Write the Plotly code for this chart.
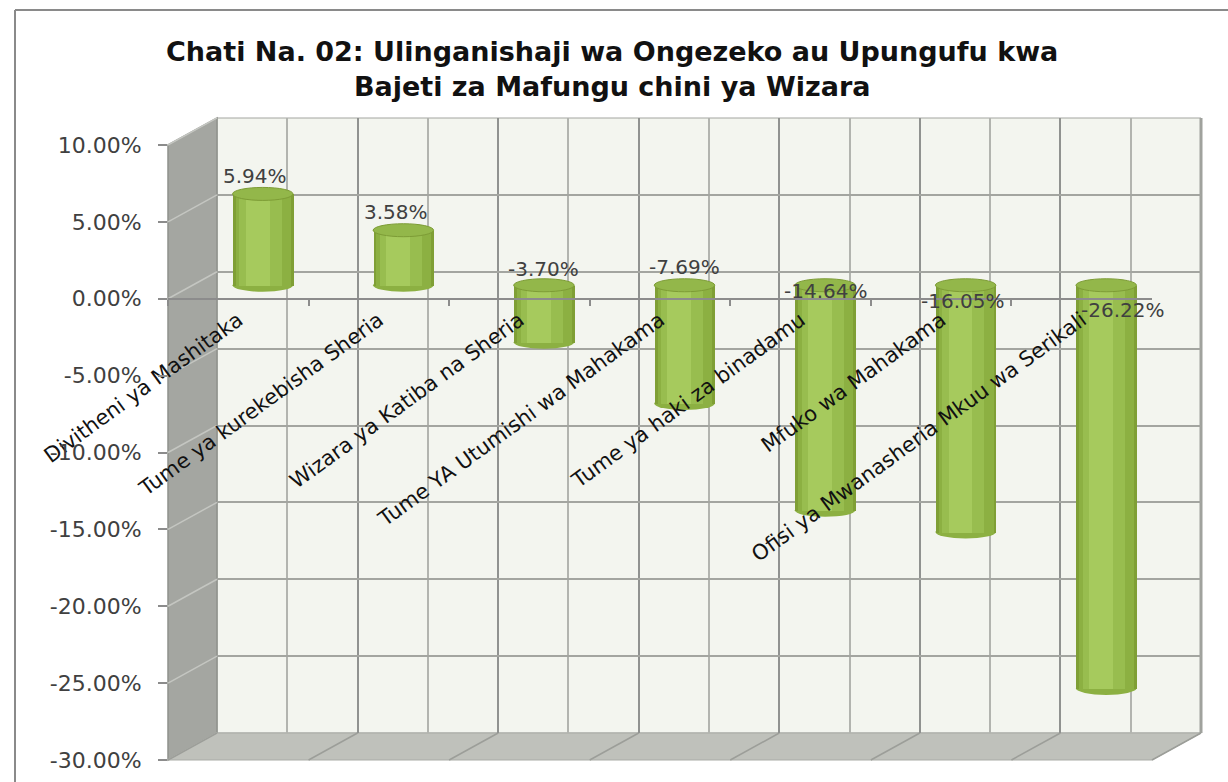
import plotly.graph_objects as go

# ---------------- data ----------------
categories = [
    "Divitheni ya Mashitaka",
    "Tume ya kurekebisha Sheria",
    "Wizara ya Katiba na Sheria",
    "Tume YA Utumishi wa Mahakama",
    "Tume ya haki za binadamu",
    "Mfuko wa Mahakama",
    "Ofisi ya Mwanasheria Mkuu wa Serikali",
]
values = [5.94, 3.58, -3.70, -7.69, -14.64, -16.05, -26.22]
y_ticks = [10, 5, 0, -5, -10, -15, -20, -25, -30]
title_lines = [
    "Chati Na. 02: Ulinganishaji wa Ongezeko au Upungufu kwa",
    "Bajeti za Mafungu chini ya Wizara",
]

# ---------------- style (pixel nudges for value labels) ----------------
label_dx = [-8, -7, 0, 0, 0, -3, 16]
label_dy = [18, 18, 16, 18, -6, -16, -25]

W, H = 1228, 782
FONT = "DejaVu Sans"

# geometry of the pseudo-3D box (pixels)
FX0, FX1, FYT, FYB = 168, 1152, 145, 760   # front plane
DX, DY = 49, -27                           # depth offset to back wall
BX0, BX1, BYT, BYB = FX0 + DX, FX1 + DX, FYT + DY, FYB + DY
MX0, MX1, MYT, MYB = FX0 + DX / 2, FX1 + DX / 2, FYT + DY / 2, FYB + DY / 2
YMIN, YMAX = -30, 10
n = len(categories)


def dx_(p):
    return p / W


def dy_(p):
    return 1 - p / H


def dom_x(a, b):
    return [dx_(a), dx_(b)]


def dom_y(top, bot):
    return [dy_(bot), dy_(top)]


fig = go.Figure()

# back-wall subplot (grid only)
fig.add_trace(go.Scatter(x=[0], y=[0], mode="markers", marker=dict(opacity=0),
                         hoverinfo="skip", showlegend=False, xaxis="x", yaxis="y"))

# bars (mid depth), layered to mimic cylinder shading
xs = list(range(n))
layers = [
    (0.43, 0.0, "#7f9f35"),
    (0.39, 0.0, "#8cb042"),
    (0.30, -0.02, "#98bd4f"),
    (0.17, -0.04, "#a6ca5d"),
]
for w, shift, col in layers:
    fig.add_trace(go.Bar(
        x=xs, y=values, width=w, offset=-w / 2 + shift,
        marker=dict(color=col, line=dict(width=0)),
        hoverinfo="skip", showlegend=False, xaxis="x2", yaxis="y2",
    ))

# front axis carrier
fig.add_trace(go.Scatter(x=categories, y=values, mode="markers", marker=dict(opacity=0),
                         hoverinfo="skip", showlegend=False, xaxis="x3", yaxis="y3"))

shapes = []
# outer chart border (left and top)
shapes.append(dict(type="line", xref="paper", yref="paper", x0=dx_(15), x1=dx_(15),
                   y0=dy_(10), y1=dy_(782), line=dict(color="#8a8a8a", width=2), layer="below"))
shapes.append(dict(type="line", xref="paper", yref="paper", x0=dx_(15), x1=dx_(1228),
                   y0=dy_(10), y1=dy_(10), line=dict(color="#8a8a8a", width=2), layer="below"))
# back wall
shapes.append(dict(type="rect", xref="paper", yref="paper", x0=dx_(BX0), x1=dx_(BX1),
                   y0=dy_(BYB), y1=dy_(BYT), fillcolor="#f3f5ef",
                   line=dict(color="#a3a5a0", width=1), layer="below"))
# left side wall
path = "M {} {} L {} {} L {} {} L {} {} Z".format(
    dx_(FX0), dy_(FYT), dx_(BX0), dy_(BYT), dx_(BX0), dy_(BYB), dx_(FX0), dy_(FYB))
shapes.append(dict(type="path", xref="paper", yref="paper", path=path,
                   fillcolor="#a4a6a1", line=dict(color="#8f918c", width=1.5), layer="below"))
# floor
path = "M {} {} L {} {} L {} {} L {} {} Z".format(
    dx_(FX0), dy_(FYB), dx_(BX0), dy_(BYB), dx_(BX1), dy_(BYB), dx_(FX1), dy_(FYB))
shapes.append(dict(type="path", xref="paper", yref="paper", path=path,
                   fillcolor="#bfc1bb", line=dict(color="#a9aba6", width=1), layer="below"))
# right edge of back wall
shapes.append(dict(type="line", xref="paper", yref="paper", x0=dx_(BX1), x1=dx_(BX1),
                   y0=dy_(BYB), y1=dy_(BYT), line=dict(color="#a0a29d", width=3), layer="below"))
# diagonals across side wall (per y tick) and floor (per category boundary)
ppu = (FYB - FYT) / (YMAX - YMIN)
for v in y_ticks:
    yf = FYT + (YMAX - v) * ppu
    shapes.append(dict(type="line", xref="paper", yref="paper", x0=dx_(FX0), x1=dx_(BX0),
                       y0=dy_(yf), y1=dy_(yf + DY), line=dict(color="#c4c6c1", width=1.5),
                       layer="below"))
cw = (FX1 - FX0) / n
for k in range(n + 1):
    shapes.append(dict(type="line", xref="paper", yref="paper",
                       x0=dx_(FX0 + k * cw), x1=dx_(BX0 + k * cw),
                       y0=dy_(FYB), y1=dy_(BYB), line=dict(color="#9c9e99", width=1.5),
                       layer="below"))

# cylinder caps
cap_h = 6.5 / ppu
half_w = 0.215
for i, v in enumerate(values):
    top = max(v, 0)
    bot = min(v, 0)
    shapes.append(dict(type="circle", xref="x2", yref="y2", x0=i - half_w, x1=i + half_w,
                       y0=bot - cap_h, y1=bot + cap_h, fillcolor="#8cb042",
                       line=dict(width=0), layer="between"))
    shapes.append(dict(type="circle", xref="x2", yref="y2", x0=i - half_w, x1=i + half_w,
                       y0=top - cap_h, y1=top + cap_h, fillcolor="#93b74a",
                       line=dict(color="#7d9c36", width=1), layer="above"))

annotations = []
for i, v in enumerate(values):
    annotations.append(dict(
        x=i, y=v if v > 0 else 0, xref="x2", yref="y2",
        text=f"{v:.2f}%", showarrow=False, xshift=label_dx[i], yshift=label_dy[i],
        font=dict(family=FONT, size=20, color="#404040"),
    ))
annotations.append(dict(
    x=612 / W, y=dy_(34), xref="paper", yref="paper", yanchor="top",
    text="<b>" + "<br>".join(title_lines) + "</b>", showarrow=False,
    font=dict(family=FONT, size=27, color="#111111"),
))

zero_px = FYT + (YMAX - 0) * ppu

fig.update_layout(
    width=W, height=H, autosize=False,
    margin=dict(l=0, r=0, t=0, b=0, pad=0, autoexpand=False),
    paper_bgcolor="white", plot_bgcolor="rgba(0,0,0,0)",
    barmode="overlay", bargap=0,
    showlegend=False,
    shapes=shapes, annotations=annotations,
    font=dict(family=FONT, color="#222222"),
    xaxis=dict(domain=dom_x(BX0, BX1), range=[-0.5, n - 0.5], type="linear", anchor="y",
               showticklabels=False, ticks="", zeroline=False, showline=False, automargin=False,
               showgrid=True, tick0=-0.5, dtick=1, gridcolor="#909290", gridwidth=2,
               minor=dict(tick0=0, dtick=0.5, showgrid=True, gridcolor="#b2b4af", gridwidth=2)),
    yaxis=dict(domain=dom_y(BYT, BYB), range=[YMIN, YMAX], anchor="x", automargin=False,
               showticklabels=False, ticks="", zeroline=False, showline=False,
               showgrid=True, tick0=0, dtick=5, gridcolor="#a3a5a0", gridwidth=2),
    xaxis2=dict(domain=dom_x(MX0, MX1), range=[-0.5, n - 0.5], type="linear", anchor="y2",
                visible=False, automargin=False),
    yaxis2=dict(domain=dom_y(MYT, MYB), range=[YMIN, YMAX], anchor="x2", visible=False,
                automargin=False),
    xaxis3=dict(domain=dom_x(FX0, FX1), range=[-0.5, n - 0.5], type="category",
                anchor="free", position=dy_(zero_px), showgrid=False, zeroline=False,
                showline=True, linecolor="#8c8c8c", linewidth=2, automargin=False,
                ticks="outside", ticklen=6, tickcolor="#8c8c8c", tickwidth=2,
                tickson="boundaries", tickangle=-36,
                tickfont=dict(family=FONT, size=21, color="#111111")),
    yaxis3=dict(domain=dom_y(FYT, FYB), range=[YMIN, YMAX], anchor="x3", automargin=False,
                tickvals=y_ticks, ticktext=[f"{v:.2f}%" for v in y_ticks],
                ticks="outside", ticklen=9, tickcolor="#8c8c8c", tickwidth=2,
                showgrid=False, zeroline=False, showline=False, ticklabelstandoff=12,
                tickfont=dict(family=FONT, size=22, color="#404040")),
)

fig.write_html("out.html", config={"displayModeBar": False},
               post_script="document.body.style.margin='0px';")
